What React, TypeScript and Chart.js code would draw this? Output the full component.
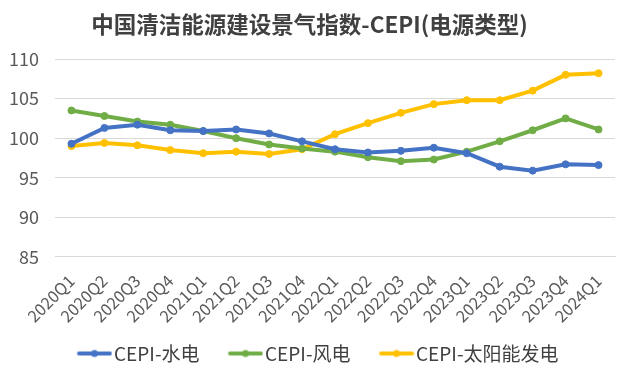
import React, { useEffect, useRef } from "react";
import { Chart, registerables } from "chart.js";
Chart.register(...registerables);

const categories = ["2020Q1","2020Q2","2020Q3","2020Q4","2021Q1","2021Q2","2021Q3","2021Q4","2022Q1","2022Q2","2022Q3","2022Q4","2023Q1","2023Q2","2023Q3","2023Q4","2024Q1"];
const hydro = [99.3,101.3,101.7,101.0,100.9,101.1,100.6,99.6,98.6,98.2,98.4,98.8,98.1,96.4,95.9,96.7,96.6];
const wind = [103.5,102.8,102.1,101.7,100.9,100.0,99.2,98.7,98.3,97.6,97.1,97.3,98.3,99.6,101.0,102.5,101.1];
const solar = [99.0,99.4,99.1,98.5,98.1,98.3,98.0,98.6,100.5,101.9,103.2,104.3,104.8,104.8,106.0,108.0,108.2];
const seriesNames = ["CEPI-水电","CEPI-风电","CEPI-太阳能发电"];
const colors = ["#4472C4","#70AD47","#FFC000"];
const title = "中国清洁能源建设景气指数-CEPI(电源类型)";

const BOX = 44;
function legendIcon(color: string) {
  const ext = 8;
  const c = document.createElement("canvas");
  c.width = BOX + ext * 2; c.height = 10;
  const ctx = c.getContext("2d")!;
  const x1 = ext + BOX + 7.5;
  const x0 = x1 - 35;
  ctx.strokeStyle = color; ctx.lineWidth = 4; ctx.lineCap = "round";
  ctx.beginPath(); ctx.moveTo(x0 + 2, 5); ctx.lineTo(x1 - 2, 5); ctx.stroke();
  ctx.fillStyle = color; ctx.beginPath(); ctx.arc((x0 + x1) / 2, 5, 3.5, 0, Math.PI * 2); ctx.fill();
  return c;
}

export default function App() {
  const ref = useRef<HTMLCanvasElement>(null);
  useEffect(() => {
    document.body.style.margin = "0";
    const font = "'Noto Sans CJK SC', 'Noto Sans', sans-serif";
    const datas = [hydro, wind, solar];
    const chart = new Chart(ref.current!, {
      type: "line",
      data: {
        labels: categories,
        datasets: datas.map((d, i) => ({
          label: seriesNames[i],
          data: d,
          borderColor: colors[i],
          backgroundColor: colors[i],
          borderWidth: 4,
          pointRadius: 3.5,
          pointBorderWidth: 1,
          pointStyle: "circle",
          pointBackgroundColor: colors[i],
          pointBorderColor: colors[i],
          tension: 0,
        })),
      },
      options: {
        animation: false,
        responsive: false,
        layout: { padding: { left: 4, right: 16, top: 2, bottom: 4 } },
        plugins: {
          title: {
            display: true,
            text: title,
            color: "#404040",
            font: { family: font, size: 22.5, weight: "bold" },
            padding: { top: 9, bottom: 21 },
          },
          legend: {
            position: "bottom",
            labels: {
              color: "#404040",
              font: { family: font, size: 19 },
              usePointStyle: true,
              pointStyleWidth: BOX,
              boxWidth: BOX,
              boxHeight: 10,
              padding: 12,
              generateLabels: (ch: any) =>
                ch.data.datasets.map((ds: any, i: number) => ({
                  text: ds.label,
                  fillStyle: colors[i],
                  strokeStyle: colors[i],
                  pointStyle: legendIcon(colors[i]),
                  datasetIndex: i,
                  hidden: false,
                  lineWidth: 0,
                  fontColor: "#404040",
                })),
            },
          },
          tooltip: { enabled: false },
        },
        scales: {
          x: {
            offset: true,
            grid: { display: false },
            border: { color: "#D9D9D9" },
            afterFit: (s: any) => { s.paddingLeft = 0; s.paddingRight = 0; },
            ticks: {
              color: "#595959",
              font: { family: font, size: 16.5 },
              minRotation: 45,
              maxRotation: 45,
              autoSkip: false,
              padding: 6,
            },
          },
          y: {
            min: 85,
            max: 110,
            grid: { color: "#D9D9D9", drawTicks: false },
            border: { display: false },
            afterFit: (s: any) => { s.width = 51; },
            ticks: {
              stepSize: 5,
              color: "#595959",
              font: { family: font, size: 18 },
              padding: 16,
            },
          },
        },
      },
    });
    return () => chart.destroy();
  }, []);
  return (
    <div style={{ width: 631, height: 377, background: "#fff" }}>
      <canvas ref={ref} width={631} height={377} />
    </div>
  );
}
